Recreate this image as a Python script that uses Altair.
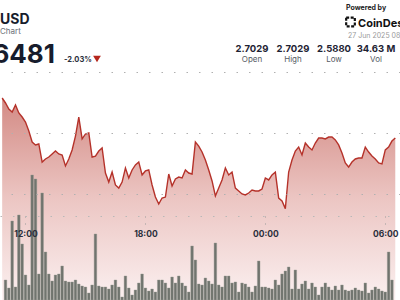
import altair as alt
import pandas as pd

# ---------------- data ----------------
price_start = "2025-06-26 10:50"
price = [2.6787, 2.6746, 2.6697, 2.6672, 2.6730, 2.6664, 2.6631, 2.6590, 2.6516, 2.6426,
         2.6402, 2.6410, 2.6262, 2.6287, 2.6303, 2.6328, 2.6352, 2.6328, 2.6320, 2.6230,
         2.6287, 2.6361, 2.6475, 2.6631, 2.6451, 2.6492, 2.6500, 2.6303, 2.6311, 2.6352,
         2.6377, 2.6172, 2.6098, 2.6180, 2.6074, 2.6049, 2.6098, 2.6213, 2.6131, 2.6197,
         2.6238, 2.6262, 2.6156, 2.6189, 2.6197, 2.6074, 2.5975, 2.5918, 2.5967, 2.5975,
         2.6164, 2.6066, 2.6123, 2.6139, 2.6131, 2.6197, 2.6172, 2.6164, 2.6426, 2.6393,
         2.6344, 2.6279, 2.6197, 2.6107, 2.5984, 2.6049, 2.6115, 2.6213, 2.6156, 2.6180,
         2.6049, 2.6025, 2.6000, 2.5992, 2.6008, 2.6033, 2.6025, 2.6025, 2.6041, 2.6131,
         2.6115, 2.6156, 2.6180, 2.5967, 2.5943, 2.5880, 2.6180, 2.6279, 2.6352, 2.6385,
         2.6320, 2.6418, 2.6385, 2.6361, 2.6418, 2.6459, 2.6459, 2.6451, 2.6467, 2.6467,
         2.6443, 2.6402, 2.6336, 2.6254, 2.6221, 2.6262, 2.6287, 2.6295, 2.6295, 2.6385,
         2.6344, 2.6311, 2.6287, 2.6254, 2.6246, 2.6361, 2.6385, 2.6434, 2.6459]

volume_start = "2025-06-26 11:00"
volume_m = [0.40, 0.24, 1.58, 0.26, 1.70, 1.12, 0.50, 0.30, 2.50, 2.42,
            0.52, 2.14, 0.96, 0.52, 0.38, 0.50, 0.52, 0.68, 0.38, 0.36,
            0.36, 0.40, 0.32, 0.28, 0.26, 0.14, 0.30, 1.32, 0.28, 0.26,
            0.26, 0.22, 0.30, 0.40, 0.26, 0.06, 0.48, 0.24, 0.10, 0.20,
            0.34, 0.52, 0.24, 0.18, 0.22, 0.16, 0.40, 0.40, 0.34, 0.24,
            0.46, 0.34, 0.48, 0.34, 0.28, 0.16, 1.08, 0.80, 0.32, 0.30,
            0.44, 0.38, 0.32, 1.14, 0.30, 0.26, 0.48, 0.48, 0.34, 0.36,
            0.16, 0.34, 0.32, 0.26, 0.16, 0.28, 0.78, 0.26, 0.26, 0.24,
            0.22, 0.40, 0.30, 0.52, 0.58, 0.66, 0.22, 0.60, 0.22, 0.32,
            0.38, 0.22, 0.34, 0.26, 0.10, 0.26, 0.34, 0.26, 0.20, 0.28,
            0.20, 0.30, 0.20, 0.18, 0.20, 0.24, 0.20, 0.18, 0.34, 0.14,
            0.20, 0.26, 0.22, 0.18, 0.16, 0.96, 0.40]

grid_prices = [2.60, 2.65, 2.70]
tick_times = ["2025-06-26T12:00:00", "2025-06-26T18:00:00",
              "2025-06-27T00:00:00", "2025-06-27T06:00:00"]
x_domain = ["2025-06-26T10:58:30", "2025-06-27T06:29:10"]
price_domain = [2.51311, 2.75902]
vol_domain = [0, 6]

title_txt = "USD"
subtitle_txt = "Chart"
last_price_txt = "2.6481"
change_txt = "-2.03%"
powered_txt = "Powered by"
brand_txt = "CoinDesk"
date_txt = "27 Jun 2025 08:00"
stat_values = ["2.7029", "2.7029", "2.5880", "34.63 M"]
stat_labels = ["Open", "High", "Low", "Vol"]

# ---------------- tables ----------------
price_df = pd.DataFrame({
    "time": pd.date_range(price_start, periods=len(price), freq="10min").strftime("%Y-%m-%dT%H:%M:%S"),
    "price": price,
})
vol_df = pd.DataFrame({
    "time": pd.date_range(volume_start, periods=len(volume_m), freq="10min").strftime("%Y-%m-%dT%H:%M:%S"),
    "vol": volume_m,
})

FONT = "Inter"
xscale = alt.Scale(domain=x_domain)
yscale = alt.Scale(domain=price_domain, nice=False, zero=False)

x_enc = alt.X(
    "time:T", scale=xscale,
    axis=alt.Axis(
        values=tick_times, format="%H:%M", title=None, offset=-84,
        domainDash=[1.5, 11], domainColor="#b8b8b8", domainWidth=1,
        tickSize=8, tickDash=[1, 6], tickColor="#9a9a9a",
        labelPadding=5, labelFontSize=8.5, labelFontWeight="bold",
        labelColor="#2a2f3b", labelFont=FONT, grid=False, zindex=1,
    ),
)

fill_gradient = alt.LinearGradient(
    gradient="linear",
    stops=[alt.GradientStop(color="#d38a84", offset=0.0),
           alt.GradientStop(color="#ecc6c3", offset=0.5),
           alt.GradientStop(color="#fbf0f0", offset=1.0)],
    x1=0, x2=0, y1=0, y2=1,
)

area = alt.Chart(price_df).mark_area(clip=True, fill=fill_gradient, opacity=1).encode(
    x=x_enc,
    y=alt.Y("price:Q", scale=yscale,
            axis=alt.Axis(values=grid_prices, orient="right", labels=False, ticks=False,
                          domain=False, title=None, grid=True, gridDash=[1.5, 11],
                          gridColor="#b0b0b0", gridWidth=1, zindex=1)),
    y2=alt.datum(price_domain[0]),
)

line = alt.Chart(price_df).mark_line(clip=True, color="#b5322a", strokeWidth=1.4).encode(
    x=alt.X("time:T", scale=xscale),
    y=alt.Y("price:Q", scale=yscale),
)

bars = alt.Chart(vol_df).mark_bar(clip=True, size=2.6, color="#70746e",
                                  stroke="#959891", strokeWidth=0.4).encode(
    x=alt.X("time:T", scale=xscale),
    y=alt.Y("vol:Q", scale=alt.Scale(domain=vol_domain, nice=False), axis=None),
)


def text(txt, x, y, size, color, weight="normal", align="left"):
    return alt.Chart(pd.DataFrame({"t": [txt]})).mark_text(
        align=align, baseline="alphabetic", fontSize=size, fontWeight=weight,
        color=color, font=FONT,
    ).encode(x=alt.value(x), y=alt.value(y), text="t:N")


header = [
    text(title_txt, 0, 24, 14, "#171c2c", "bold"),
    text(subtitle_txt, 0, 34, 8, "#6b6f78"),
    text(last_price_txt, 55, 63, 26, "#171c2c", "bold", "right"),
    text(change_txt, 64, 61.5, 7.5, "#2a2f3b", "bold"),
    text(powered_txt, 346, 10, 7, "#222222", "bold"),
    text(brand_txt, 358, 27, 11, "#111111", "bold"),
    text(date_txt, 348, 38, 7, "#9a9a9a"),
]
stat_x = [252, 293, 334, 376]
for sx, v, lab in zip(stat_x, stat_values, stat_labels):
    header.append(text(v, sx, 51.5, 9.5, "#1e2333", "bold", "center"))
    header.append(text(lab, sx, 61.5, 8, "#555a63", "normal", "center"))

tri = alt.Chart(pd.DataFrame({"t": ["down"]})).mark_point(
    shape="triangle-down", filled=True, size=60, color="#b5271d", opacity=1
).encode(x=alt.value(97), y=alt.value(59))

logo = alt.Chart(pd.DataFrame({"t": ["logo"]})).mark_point(
    shape="square", filled=False, size=75, strokeWidth=2.2, color="#111111",
    strokeDash=[3, 1.5], opacity=1
).encode(x=alt.value(350.5), y=alt.value(22))

price_layer = alt.layer(area, line)
data_layers = alt.layer(price_layer, bars).resolve_scale(y="independent")

chart = alt.layer(data_layers, *header, tri, logo).properties(
    width=400, height=300, padding=0, autosize=alt.AutoSizeParams(type="none"),
    background="white",
).configure_view(stroke=None)

chart.save("out.html", embed_options={"renderer": "svg", "actions": False})
